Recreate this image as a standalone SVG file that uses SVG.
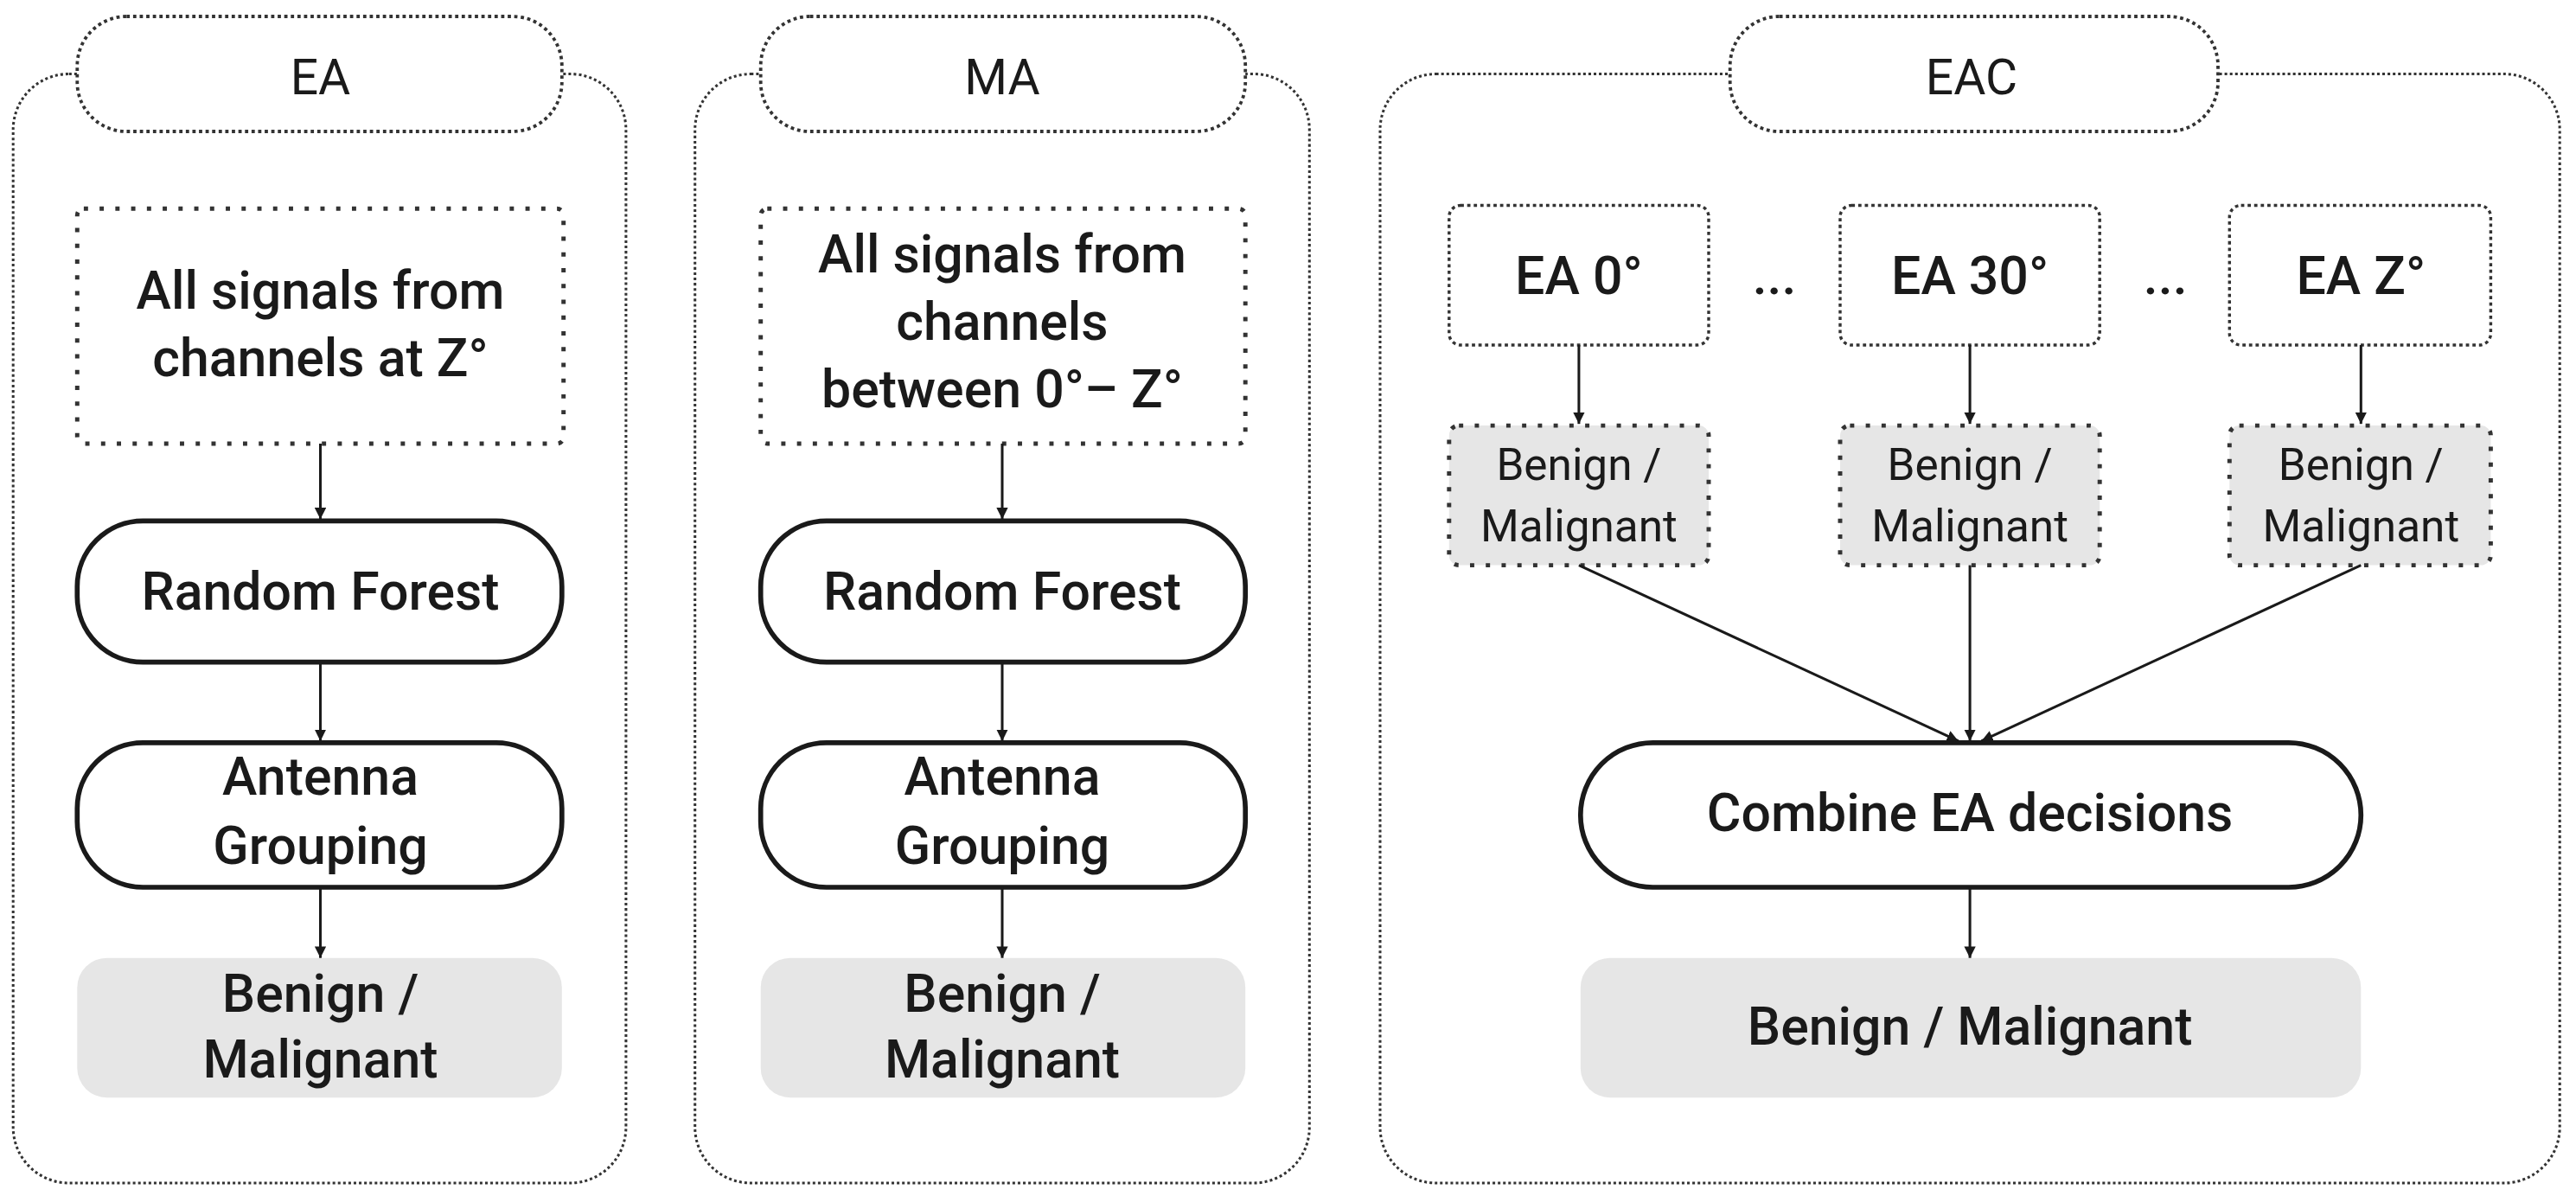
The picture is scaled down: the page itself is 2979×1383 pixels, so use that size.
<svg xmlns="http://www.w3.org/2000/svg" width="2979" height="1383" viewBox="0 0 2979 1383">
<defs>
<style>
text{font-family:Roboto,"Liberation Sans",sans-serif;font-weight:500;fill:#1a1a1a;text-anchor:middle;dominant-baseline:central}
.panel{fill:#fff;stroke:#333;stroke-width:1.6;stroke-dasharray:1.6 1.6}
.tab{fill:#fff;stroke:#333;stroke-width:2;stroke-dasharray:2 2}
.coarse{fill:#fff;stroke:#333;stroke-width:2.6;stroke-dasharray:2.6 7}
.fine{fill:#fff;stroke:#333;stroke-width:1.8;stroke-dasharray:2 2}
.gcoarse{fill:#e6e6e6;stroke:#333;stroke-width:2.6;stroke-dasharray:2.6 7}
.solid{fill:#fff;stroke:#1a1a1a;stroke-width:3}
.gray{fill:#e6e6e6;stroke:none}
.c{stroke:#1a1a1a;stroke-width:1.6;fill:none;marker-end:url(#ah)}
.t{font-size:32px}
.s{font-size:27px;font-weight:400}
.h{font-size:30px;font-weight:400}
</style>
<marker id="ah" viewBox="0 0 10 10" refX="10" refY="5" markerWidth="7" markerHeight="7" orient="auto" markerUnits="userSpaceOnUse"><path d="M0,0L10,5L0,10z" fill="#1a1a1a" transform="scale(1)"/></marker>
</defs>
<g transform="scale(1.9)">
<g id="panel-ea"><rect class="panel" x="8" y="45" width="373" height="675" rx="34"/><rect class="tab" x="47" y="10" width="295" height="70" rx="30"/><text class="h" x="195" y="47">EA</text></g>
<g id="panel-ma"><rect class="panel" x="423" y="45" width="374" height="675" rx="34"/><rect class="tab" x="463" y="10" width="295" height="70" rx="30"/><text class="h" x="610" y="47">MA</text></g>
<g id="panel-eac"><rect class="panel" x="840" y="45" width="718" height="675" rx="34"/><rect class="tab" x="1053" y="10" width="297" height="70" rx="30"/><text class="h" x="1200" y="47">EAC</text></g>

<g id="ea-input"><rect class="coarse" x="47" y="127" width="296" height="143" rx="4"/><text class="t" x="195" y="177">All signals from</text><text class="t" x="195" y="218">channels at Z°</text></g>
<g id="ea-rf"><rect class="solid" x="47" y="317" width="295" height="86" rx="40"/><text class="t" x="195" y="360">Random Forest</text></g>
<g id="ea-ag"><rect class="solid" x="47" y="452" width="295" height="88" rx="40"/><text class="t" x="195" y="473">Antenna</text><text class="t" x="195" y="515">Grouping</text></g>
<g id="ea-out"><rect class="gray" x="47" y="583" width="295" height="85" rx="18"/><text class="t" x="195" y="605">Benign /</text><text class="t" x="195" y="645">Malignant</text></g>

<g id="ma-input"><rect class="coarse" x="463" y="127" width="295" height="143" rx="4"/><text class="t" x="610" y="155">All signals from</text><text class="t" x="610" y="196">channels</text><text class="t" x="610" y="237">between 0°– Z°</text></g>
<g id="ma-rf"><rect class="solid" x="463" y="317" width="295" height="86" rx="40"/><text class="t" x="610" y="360">Random Forest</text></g>
<g id="ma-ag"><rect class="solid" x="463" y="452" width="295" height="88" rx="40"/><text class="t" x="610" y="473">Antenna</text><text class="t" x="610" y="515">Grouping</text></g>
<g id="ma-out"><rect class="gray" x="463" y="583" width="295" height="85" rx="18"/><text class="t" x="610" y="605">Benign /</text><text class="t" x="610" y="645">Malignant</text></g>

<g id="eac-0"><rect class="fine" x="882" y="125" width="158" height="85" rx="7"/><text class="t" x="961" y="168">EA 0°</text></g>
<g id="eac-30"><rect class="fine" x="1120" y="125" width="158" height="85" rx="7"/><text class="t" x="1199" y="168">EA 30°</text></g>
<g id="eac-z"><rect class="fine" x="1357" y="125" width="159" height="85" rx="7"/><text class="t" x="1437" y="168">EA Z°</text></g>
<text class="t" x="1080" y="168">...</text><text class="t" x="1318" y="168">...</text>
<g id="eac-bm0"><rect class="gcoarse" x="882" y="259" width="158" height="85" rx="6"/><text class="s" x="961" y="283">Benign /</text><text class="s" x="961" y="320">Malignant</text></g>
<g id="eac-bm30"><rect class="gcoarse" x="1120" y="259" width="158" height="85" rx="6"/><text class="s" x="1199" y="283">Benign /</text><text class="s" x="1199" y="320">Malignant</text></g>
<g id="eac-bmz"><rect class="gcoarse" x="1357" y="259" width="159" height="85" rx="6"/><text class="s" x="1437" y="283">Benign /</text><text class="s" x="1437" y="320">Malignant</text></g>
<g id="eac-combine"><rect class="solid" x="962" y="452" width="475" height="88" rx="44"/><text class="t" x="1199" y="495">Combine EA decisions</text></g>
<g id="eac-out"><rect class="gray" x="962" y="583" width="475" height="85" rx="18"/><text class="t" x="1199" y="625">Benign / Malignant</text></g>

<g id="connectors">
<line class="c" x1="195" y1="270" x2="195" y2="316"/>
<line class="c" x1="195" y1="403" x2="195" y2="451"/>
<line class="c" x1="195" y1="540" x2="195" y2="583"/>
<line class="c" x1="610" y1="270" x2="610" y2="316"/>
<line class="c" x1="610" y1="403" x2="610" y2="451"/>
<line class="c" x1="610" y1="540" x2="610" y2="583"/>
<line class="c" x1="961" y1="210" x2="961" y2="258"/>
<line class="c" x1="1199" y1="210" x2="1199" y2="258"/>
<line class="c" x1="1437" y1="210" x2="1437" y2="258"/>
<line class="c" x1="961" y1="344" x2="1192" y2="451"/>
<line class="c" x1="1199" y1="344" x2="1199" y2="451"/>
<line class="c" x1="1437" y1="344" x2="1206" y2="451"/>
<line class="c" x1="1199" y1="540" x2="1199" y2="583"/>
</g>
</g>
</svg>
